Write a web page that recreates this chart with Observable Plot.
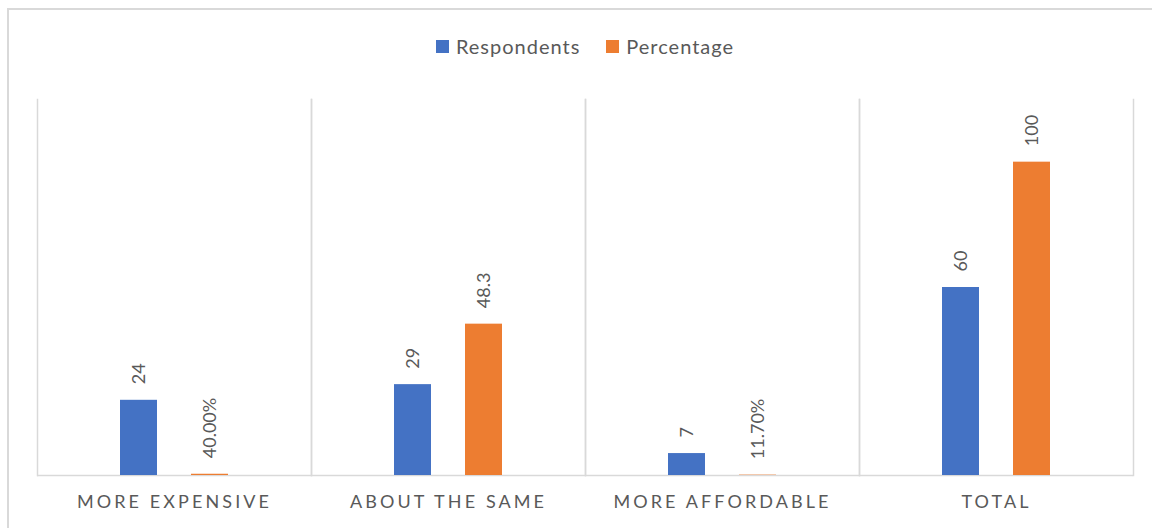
<!DOCTYPE html>
<html>
<head>
<meta charset="utf-8">
<script src="https://cdn.jsdelivr.net/npm/d3@7"></script>
<script src="https://cdn.jsdelivr.net/npm/@observablehq/plot@0.6"></script>
<style>
  html, body { margin: 0; padding: 0; background: #fff; }
  #wrap { position: relative; width: 1152px; height: 528px; overflow: hidden; background: #fff; font-family: Lato, "Open Sans", sans-serif; }
  #border { position: absolute; left: 7px; top: 8px; width: 1300px; height: 700px; border: 2px solid #d9d9d9; pointer-events: none; }
  #legend { position: absolute; left: 37px; width: 1096px; top: 34px; height: 24px; display: flex; justify-content: center; align-items: center; color: #595959; font-size: 20px; letter-spacing: 1px; }
  #legend .item { display: flex; align-items: center; }
  #legend .sw { width: 13px; height: 13px; margin-right: 7px; }
  #legend .item + .item { margin-left: 26px; }
  #chart { position: absolute; left: 0; top: 80px; }
  [aria-label="fx-axis tick label"] text { letter-spacing: 3.1px; }
</style>
</head>
<body>
<div id="wrap">
  <div id="legend"></div>
  <div id="chart"></div>
  <div id="border"></div>
</div>
<script>
const categories = ["MORE EXPENSIVE", "ABOUT THE SAME", "MORE AFFORDABLE", "TOTAL"];
const seriesNames = ["Respondents", "Percentage"];
const respondents = [24, 29, 7, 60];
const percentage = [0.4, 48.3, 0.117, 100];
const respondentLabels = ["24", "29", "7", "60"];
const percentageLabels = ["40.00%", "48.3", "11.70%", "100"];
const seriesColors = ["#4472C4", "#ED7D31"];

const data = categories.flatMap((c, i) => [
  {category: c, series: seriesNames[0], value: respondents[i], label: respondentLabels[i]},
  {category: c, series: seriesNames[1], value: percentage[i], label: percentageLabels[i]}
]);

// legend
const legend = document.getElementById("legend");
seriesNames.forEach((s, i) => {
  const item = document.createElement("div");
  item.className = "item";
  const sw = document.createElement("span");
  sw.className = "sw";
  sw.style.background = seriesColors[i];
  const t = document.createElement("span");
  t.textContent = s;
  item.appendChild(sw);
  item.appendChild(t);
  legend.appendChild(item);
});

const chart = Plot.plot({
  width: 1152,
  height: 448,
  marginTop: 19,
  marginBottom: 53,
  marginLeft: 37,
  marginRight: 19,
  style: {background: "none", fontFamily: "Lato, 'Open Sans', sans-serif", overflow: "visible"},
  fx: {domain: categories, padding: 0, label: null},
  x: {domain: seriesNames, paddingInner: 0.479, paddingOuter: 1.169, axis: null},
  y: {domain: [0, 120], axis: null},
  color: {domain: seriesNames, range: seriesColors},
  marks: [
    Plot.frame({anchor: "left", stroke: "#d9d9d9", strokeWidth: 1.5}),
    Plot.frame({anchor: "right", stroke: "#d9d9d9", strokeWidth: 1.5}),
    Plot.ruleY([0], {stroke: "#d9d9d9", strokeWidth: 1.5}),
    Plot.barY(data, {fx: "category", x: "series", y: "value", fill: "series"}),
    Plot.text(data, {fx: "category", x: "series", y: "value", text: "label", rotate: -90, textAnchor: "start", dy: -16, fill: "#595959", fontSize: 18}),
    Plot.axisFx({anchor: "bottom", tickSize: 0, tickPadding: 20, fontSize: 18, fill: "#595959", label: null})
  ]
});
document.getElementById("chart").appendChild(chart);
</script>
</body>
</html>
